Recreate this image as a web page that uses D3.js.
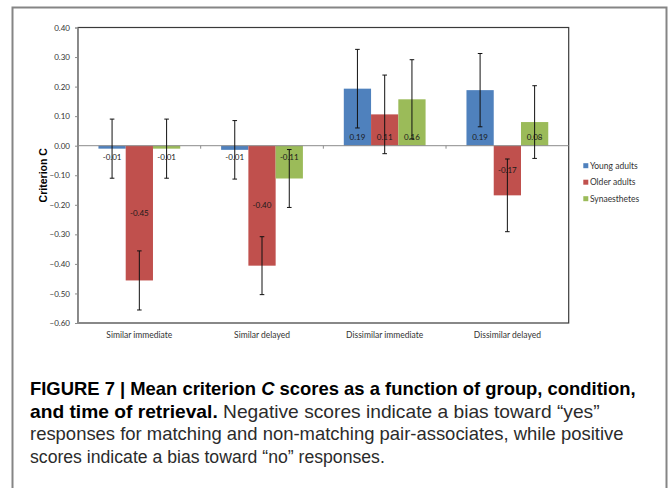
<!DOCTYPE html>
<html>
<head>
<meta charset="utf-8">
<script src="https://cdn.jsdelivr.net/npm/d3@7"></script>
<style>
  body { margin: 0; background: #fff; }
  svg { display: block; }
</style>
</head>
<body>
<script>
var width = 671;
var height = 488;
var plot = {left: 78, right: 568.7, top: 27.5, bottom: 323};

// chart data
var categories = ["Similar immediate", "Similar delayed", "Dissimilar immediate", "Dissimilar delayed"];
var groups = ["Young adults", "Older adults", "Synaesthetes"];
var colors = ["#4f81bd", "#c0504d", "#9bbb59"];

var youngValues = [-0.010, -0.014, 0.193, 0.188];
var olderValues = [-0.456, -0.406, 0.106, -0.168];
var synValues = [-0.010, -0.111, 0.157, 0.080];

var youngErr = [0.100, 0.099, 0.133, 0.124];
var olderErr = [0.100, 0.098, 0.133, 0.123];
var synErr = [0.100, 0.098, 0.134, 0.123];

var youngLabels = ["-0.01", "-0.01", "0.19", "0.19"];
var olderLabels = ["-0.45", "-0.40", "0.11", "-0.17"];
var synLabels = ["-0.01", "-0.11", "0.16", "0.08"];

var yTicks = [0.40, 0.30, 0.20, 0.10, 0.00, -0.10, -0.20, -0.30, -0.40, -0.50, -0.60];

var captionLines = [
  [{t: "FIGURE 7 | Mean criterion ", b: true}, {t: "C", b: true, i: true}, {t: " scores as a function of group, condition,", b: true}],
  [{t: "and time of retrieval.", b: true}, {t: " Negative scores indicate a bias toward \u201cyes\u201d"}],
  [{t: "responses for matching and non-matching pair-associates, while positive"}],
  [{t: "scores indicate a bias toward \u201cno\u201d responses."}]
];
var captionEnds = [636, 600, 624, 385];

var valueSets = [youngValues, olderValues, synValues];
var errSets = [youngErr, olderErr, synErr];
var labelSets = [youngLabels, olderLabels, synLabels];

// flatten into rows for drawing
var rows = [];
categories.forEach(function(c, ci) {
  groups.forEach(function(g, gi) {
    rows.push({cat: c, group: g, gi: gi, value: valueSets[gi][ci], err: errSets[gi][ci], label: labelSets[gi][ci]});
  });
});

var svg = d3.select("body").append("svg")
    .attr("width", width)
    .attr("height", height);

// outer frame of figure
svg.append("rect")
    .attr("x", 12.5).attr("y", 7.5)
    .attr("width", 654).attr("height", 495)
    .style("fill", "none")
    .style("stroke", "#858585")
    .style("stroke-width", 2);

var x0 = d3.scaleBand()
    .domain(categories)
    .range([plot.left, plot.right]);

var bw = x0.bandwidth();
var x1 = d3.scaleBand()
    .domain(groups)
    .range([bw / 6, bw * 5 / 6]);

var y = d3.scaleLinear()
    .domain([-0.6, 0.4])
    .range([plot.bottom, plot.top]);

var chartFont = "Lato, 'Open Sans', sans-serif";

// plot area border
svg.append("rect")
    .attr("x", plot.left).attr("y", plot.top)
    .attr("width", plot.right - plot.left).attr("height", plot.bottom - plot.top)
    .style("fill", "none")
    .style("stroke", "#3a3a3a")
    .style("stroke-width", 1.2);

// y axis
var yAxis = d3.axisLeft(y)
    .tickValues(yTicks)
    .tickSize(3)
    .tickPadding(5)
    .tickFormat(d3.format(".2f"));

var yg = svg.append("g")
    .attr("transform", "translate(" + plot.left + ",0)")
    .call(yAxis);
yg.select(".domain").style("stroke", "#8c8c8c");
yg.selectAll(".tick line").style("stroke", "#8c8c8c");
yg.selectAll("text")
    .style("font-family", chartFont)
    .style("font-size", "8px")
    .style("fill", "#333");

// bars
svg.selectAll("rect.bar")
    .data(rows)
  .enter().append("rect")
    .attr("class", "bar")
    .attr("x", function(d) { return x0(d.cat) + x1(d.group); })
    .attr("y", function(d) { return y(Math.max(0, d.value)); })
    .attr("width", x1.bandwidth())
    .attr("height", function(d) { return Math.abs(y(d.value) - y(0)); })
    .style("fill", function(d) { return colors[d.gi]; });

// zero axis with category tick marks
svg.append("line")
    .attr("x1", plot.left).attr("x2", plot.right)
    .attr("y1", y(0)).attr("y2", y(0))
    .style("stroke", "#8c8c8c");
svg.selectAll("line.ctick")
    .data(categories.slice(1))
  .enter().append("line")
    .attr("class", "ctick")
    .attr("x1", function(d) { return x0(d); })
    .attr("x2", function(d) { return x0(d); })
    .attr("y1", y(0)).attr("y2", y(0) + 3)
    .style("stroke", "#8c8c8c");

// data labels
svg.selectAll("text.vlabel")
    .data(rows)
  .enter().append("text")
    .attr("class", "vlabel")
    .attr("x", function(d) { return x0(d.cat) + x1(d.group) + x1.bandwidth() / 2; })
    .attr("y", function(d) {
      var h = Math.abs(y(d.value) - y(0));
      if (d.value >= 0) return y(0) - 8.6;
      if (h < 40) return y(0) + 11.4;
      return (y(0) + y(d.value)) / 2;
    })
    .attr("dy", "0.35em")
    .style("text-anchor", "middle")
    .style("font-family", chartFont)
    .style("font-size", "8px")
    .style("fill", "#1a1a1a")
    .text(function(d) { return d.label; });

// error bars
var eb = svg.selectAll("g.err")
    .data(rows)
  .enter().append("g")
    .attr("class", "err")
    .attr("transform", function(d) { return "translate(" + (x0(d.cat) + x1(d.group) + x1.bandwidth() / 2) + ",0)"; });
eb.append("line")
    .attr("y1", function(d) { return y(d.value + d.err); })
    .attr("y2", function(d) { return y(d.value - d.err); });
eb.append("line")
    .attr("x1", -2.3).attr("x2", 2.3)
    .attr("y1", function(d) { return y(d.value + d.err); })
    .attr("y2", function(d) { return y(d.value + d.err); });
eb.append("line")
    .attr("x1", -2.3).attr("x2", 2.3)
    .attr("y1", function(d) { return y(d.value - d.err); })
    .attr("y2", function(d) { return y(d.value - d.err); });
eb.selectAll("line")
    .style("stroke", "#111")
    .style("stroke-width", 1);

// category labels
svg.selectAll("text.cat")
    .data(categories)
  .enter().append("text")
    .attr("class", "cat")
    .attr("x", function(d) { return x0(d) + bw / 2; })
    .attr("y", 338)
    .style("text-anchor", "middle")
    .style("font-family", chartFont)
    .style("font-size", "8.5px")
    .style("fill", "#333")
    .text(function(d) { return d; });

// y axis title
svg.append("text")
    .attr("transform", "translate(" + 47 + "," + ((plot.top + plot.bottom) / 2) + ") rotate(-90)")
    .style("text-anchor", "middle")
    .style("font-family", "'Liberation Sans', Arial, sans-serif")
    .style("font-weight", "bold")
    .style("font-size", "10.5px")
    .style("fill", "#000")
    .text("Criterion C");

// legend
var legend = svg.selectAll("g.legend")
    .data(groups)
  .enter().append("g")
    .attr("class", "legend")
    .attr("transform", function(d, i) { return "translate(583.3," + (165.7 + i * 16.5) + ")"; });
legend.append("rect")
    .attr("x", 0).attr("y", -2.5)
    .attr("width", 5).attr("height", 5)
    .style("fill", function(d, i) { return colors[i]; });
legend.append("text")
    .attr("x", 6.6)
    .attr("dy", "0.35em")
    .style("font-family", chartFont)
    .style("font-size", "8.5px")
    .style("fill", "#333")
    .text(function(d) { return d; });

// caption, each line squeezed to the width it has in the figure
var capX = 30;
var capBase = [395, 417.5, 440, 462.5];
captionLines.forEach(function(parts, li) {
  var t = svg.append("text")
      .attr("x", 0)
      .attr("y", 0)
      .style("font-family", "'Liberation Sans', Arial, sans-serif")
      .style("font-size", "17.5px");
  parts.forEach(function(p) {
    t.append("tspan")
      .style("font-weight", p.b ? "bold" : "normal")
      .style("font-style", p.i ? "italic" : "normal")
      .style("fill", p.b ? "#000" : "#2b2b2b")
      .text(p.t);
  });
  var w = t.node().getComputedTextLength();
  var k = (captionEnds[li] - capX) / w;
  t.attr("transform", "translate(" + capX + "," + capBase[li] + ") scale(" + k + ",1)");
});
</script>
</body>
</html>
